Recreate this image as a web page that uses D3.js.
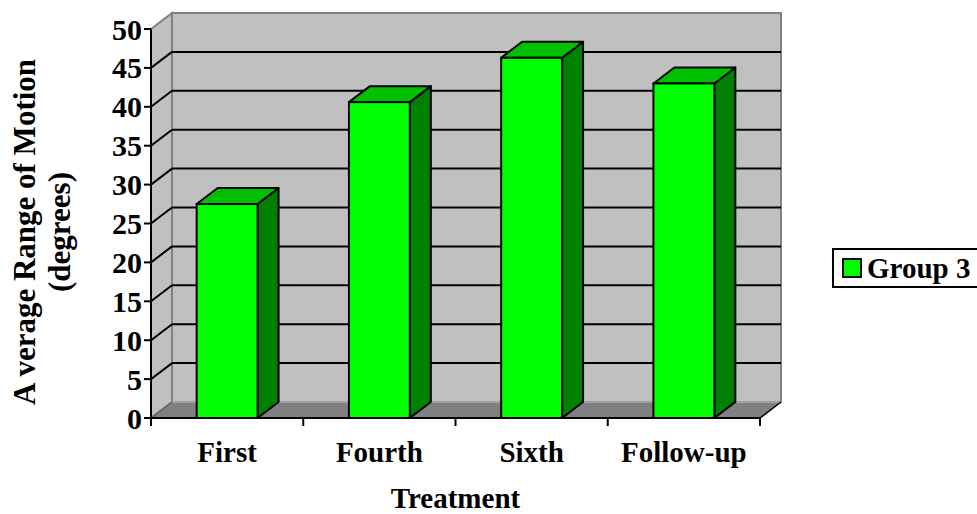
<!DOCTYPE html>
<html>
<head>
<meta charset="utf-8">
<script src="https://cdn.jsdelivr.net/npm/d3@7"></script>
<style>
  html, body { margin: 0; padding: 0; background: #ffffff; }
  svg { display: block; }
  text { font-family: "Liberation Serif", "Times New Roman", serif; font-weight: bold; fill: #000; }
</style>
</head>
<body>
<svg id="chart" width="977" height="514"></svg>
<script>
// Average range of motion per treatment session
const categories = ["First", "Fourth", "Sixth", "Follow-up"];
const group3 = [27.5, 40.6, 46.3, 43.0];
const yTicks = [0, 5, 10, 15, 20, 25, 30, 35, 40, 45, 50];
const seriesName = "Group 3";

const svg = d3.select("#chart");

// depth offset of the 3-D box (back plane relative to front plane)
const DX = 21, DY = -16;

const x = d3.scaleBand().domain(categories).range([151, 760]);
const y = d3.scaleLinear().domain([0, 50]).range([418, 29]);

const wallFill = "#c0c0c0", floorFill = "#808080", edge = "#808080";
const frontFill = "#00ff00", topFill = "#00c000", sideFill = "#008000";

const pts = p => p.map(d => d.join(",")).join(" ");
const x0 = x.range()[0], x1 = x.range()[1];

// back wall
svg.append("rect")
  .attr("x", x0 + DX).attr("y", y(50) + DY)
  .attr("width", x1 - x0).attr("height", y(0) - y(50))
  .attr("fill", wallFill).attr("stroke", edge).attr("stroke-width", 2);

// left side wall
svg.append("polygon")
  .attr("points", pts([[x0, y(50)], [x0 + DX, y(50) + DY], [x0 + DX, y(0) + DY], [x0, y(0)]]))
  .attr("fill", wallFill).attr("stroke", edge).attr("stroke-width", 2);

// floor
svg.append("polygon")
  .attr("points", pts([[x0, y(0)], [x1, y(0)], [x1 + DX, y(0) + DY], [x0 + DX, y(0) + DY]]))
  .attr("fill", floorFill);
svg.append("line")
  .attr("x1", x0 + DX).attr("x2", x1 + DX).attr("y1", y(0) + DY).attr("y2", y(0) + DY)
  .attr("stroke", "#a0a0a0").attr("stroke-width", 2);
svg.append("line")
  .attr("x1", x1).attr("y1", y(0)).attr("x2", x1 + DX).attr("y2", y(0) + DY)
  .attr("stroke", "#000").attr("stroke-width", 1.5);
svg.append("line")
  .attr("x1", x0).attr("y1", y(0)).attr("x2", x0 + DX).attr("y2", y(0) + DY)
  .attr("stroke", "#606060").attr("stroke-width", 1.5);

// gridlines on back and side walls
const inner = yTicks.filter(t => t > 0 && t < 50);
const grid = svg.append("g");
grid.selectAll("line.back").data(inner).join("line")
  .attr("class", "back")
  .attr("x1", x0 + DX).attr("x2", x1 + DX)
  .attr("y1", d => y(d) + DY).attr("y2", d => y(d) + DY)
  .attr("stroke", "#000").attr("stroke-width", 2);
grid.selectAll("line.side").data(inner).join("line")
  .attr("class", "side")
  .attr("x1", x0).attr("y1", d => y(d))
  .attr("x2", x0 + DX).attr("y2", d => y(d) + DY)
  .attr("stroke", "#000").attr("stroke-width", 2);

// 3-D columns
const barW = x.bandwidth() * 0.4;
const bars = svg.append("g").selectAll("g").data(categories.map((c, i) => ({ c, v: group3[i] }))).join("g");
bars.each(function (d) {
  const g = d3.select(this);
  const bx0 = x(d.c) + (x.bandwidth() - barW) / 2, bx1 = bx0 + barW;
  const yt = y(d.v), yb = y(0);
  g.append("polygon")
    .attr("points", pts([[bx1, yt], [bx1 + DX, yt + DY], [bx1 + DX, yb + DY], [bx1, yb]]))
    .attr("fill", sideFill).attr("stroke", "#000").attr("stroke-width", 2).attr("stroke-linejoin", "round");
  g.append("polygon")
    .attr("points", pts([[bx0, yt], [bx1, yt], [bx1 + DX, yt + DY], [bx0 + DX, yt + DY]]))
    .attr("fill", topFill).attr("stroke", "#000").attr("stroke-width", 2).attr("stroke-linejoin", "round");
  g.append("rect")
    .attr("x", bx0).attr("y", yt).attr("width", barW).attr("height", yb - yt)
    .attr("fill", frontFill).attr("stroke", "#000").attr("stroke-width", 2);
});

// value axis
const yAxis = svg.append("g");
yAxis.append("line").attr("x1", x0).attr("x2", x0).attr("y1", y(50)).attr("y2", y(0))
  .attr("stroke", "#000").attr("stroke-width", 2);
yAxis.selectAll("line.tick").data(yTicks).join("line")
  .attr("class", "tick")
  .attr("x1", x0 - 7).attr("x2", x0).attr("y1", d => y(d)).attr("y2", d => y(d))
  .attr("stroke", "#000").attr("stroke-width", 2);
yAxis.selectAll("text").data(yTicks).join("text")
  .attr("x", x0 - 9).attr("y", d => y(d)).attr("dy", "0.35em")
  .attr("text-anchor", "end").style("font-size", "30px")
  .text(d => d);

// category axis
const xAxis = svg.append("g");
xAxis.append("line").attr("x1", x0).attr("x2", x1).attr("y1", y(0)).attr("y2", y(0))
  .attr("stroke", "#000").attr("stroke-width", 2);
const boundaries = categories.map(c => x(c)).concat([x1]);
xAxis.selectAll("line.tick").data(boundaries).join("line")
  .attr("class", "tick")
  .attr("x1", d => d).attr("x2", d => d).attr("y1", y(0)).attr("y2", y(0) + 8)
  .attr("stroke", "#000").attr("stroke-width", 2);
xAxis.selectAll("text").data(categories).join("text")
  .attr("x", d => x(d) + x.bandwidth() / 2).attr("y", 462)
  .attr("text-anchor", "middle").style("font-size", "29px")
  .text(d => d);

// axis titles
svg.append("text").attr("x", (x0 + x1) / 2).attr("y", 508).attr("text-anchor", "middle")
  .style("font-size", "29px").text("Treatment");
const yTitle = svg.append("text").attr("transform", "translate(0,232) rotate(-90)")
  .attr("text-anchor", "middle").style("font-size", "31px");
yTitle.append("tspan").attr("x", 0).attr("y", 35).text("A verage Range of Motion");
yTitle.append("tspan").attr("x", 0).attr("y", 70).text("(degrees)");

// legend
const lg = svg.append("g");
lg.append("rect").attr("x", 833).attr("y", 249).attr("width", 150).attr("height", 38)
  .attr("fill", "#fff").attr("stroke", "#000").attr("stroke-width", 2);
lg.append("rect").attr("x", 843).attr("y", 259).attr("width", 18).attr("height", 18)
  .attr("fill", frontFill).attr("stroke", "#000").attr("stroke-width", 2);
lg.append("text").attr("x", 867).attr("y", 278).style("font-size", "29px").text(seriesName);
</script>
</body>
</html>
